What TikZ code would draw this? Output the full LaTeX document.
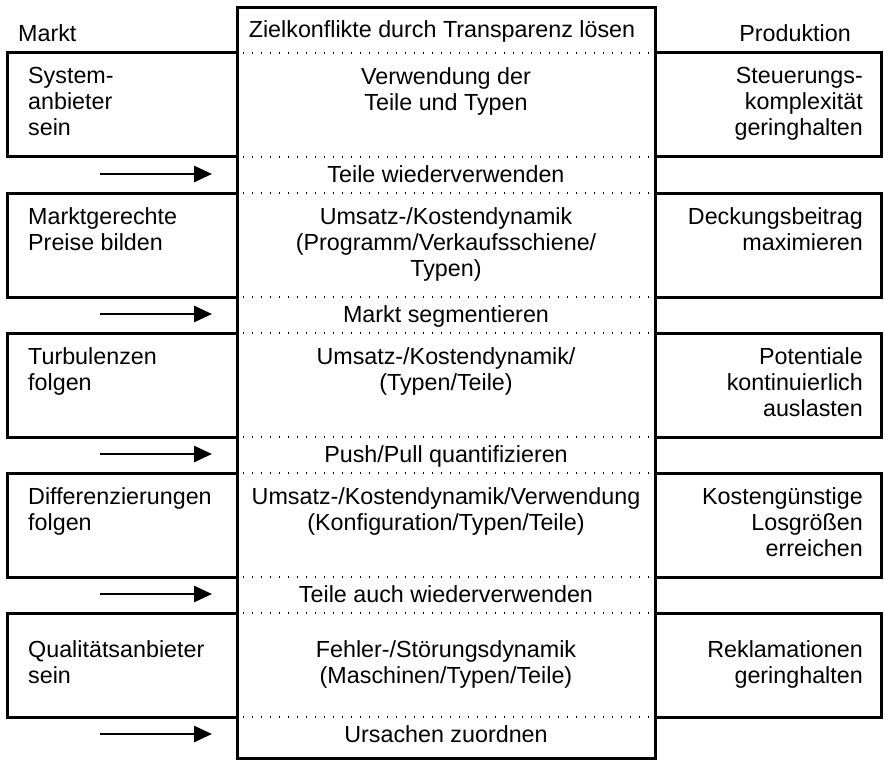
\documentclass[tikz,border=0pt]{standalone}
\usepackage{fontspec}
\setmainfont{Liberation Sans}
\usetikzlibrary{arrows.meta}
\begin{document}
\begin{tikzpicture}[x=1pt,y=-1pt,
  box/.style={draw,line width=3pt},
  dotline/.style={line width=1.2pt,dash pattern=on 1.2pt off 7.8pt},
  txt/.style={font=\fontsize{23.3}{26}\selectfont,inner sep=0pt},
  ltxt/.style={txt,align=left,anchor=north west},
  rtxt/.style={txt,align=right,anchor=north east},
  ctxt/.style={txt,align=center,anchor=north},
  arr/.style={line width=2.8pt,-{Triangle[length=18pt,width=16pt]}}]
\useasboundingbox (0,0) rectangle (885,762);
% central box
\draw[box] (237,8) rectangle (655,758);
% side boxes
\foreach \k in {0,...,4}{
  \draw[box] (7,53+140*\k) rectangle (237,157+140*\k);
  \draw[box] (655,53+140*\k) rectangle (881,157+140*\k);
  \draw[dotline] (243,53+140*\k) -- (649,53+140*\k);
  \draw[dotline] (243,157+140*\k) -- (649,157+140*\k);
  \coordinate (a\k) at (100,174+140*\k);
  \coordinate (b\k) at (212,174+140*\k);
  \draw[arr] (a\k) -- (b\k);
}
% headers
\node[ltxt] (hm) at (18,24) {Markt};
\node[rtxt] (hp) at (851,24) {Produktion};
\node[ctxt] (title) at (442,20) {Zielkonflikte durch Transparenz lösen};
% left texts
\node[ltxt] (l1) at (28,67) {System-\\anbieter\\sein};
\node[ltxt] (l2) at (28,207) {Marktgerechte\\Preise bilden};
\node[ltxt] (l3) at (28,347) {Turbulenzen\\folgen};
\node[ltxt] (l4) at (28,487) {Differenzierungen\\folgen};
\node[ltxt] (l5) at (28,640) {Qualitätsanbieter\\sein};
% right texts
\node[rtxt] (r1) at (863,67) {Steuerungs-\\komplexität\\geringhalten};
\node[rtxt] (r2) at (863,207) {Deckungsbeitrag\\maximieren};
\node[rtxt] (r3) at (863,347) {Potentiale\\kontinuierlich\\auslasten};
\node[rtxt] (r4) at (863,487) {Kostengünstige\\Losgrößen\\erreichen};
\node[rtxt] (r5) at (863,640) {Reklamationen\\geringhalten};
% center texts
\node[ctxt] (c1) at (446,67) {Verwendung der\\Teile und Typen};
\node[ctxt] (c2) at (446,207) {Umsatz-/Kostendynamik\\(Programm/Verkaufsschiene/\\Typen)};
\node[ctxt] (c3) at (446,347) {Umsatz-/Kostendynamik/\\(Typen/Teile)};
\node[ctxt] (c4) at (446,487) {Umsatz-/Kostendynamik/Verwendung\\(Konfiguration/Typen/Teile)};
\node[ctxt] (c5) at (446,640) {Fehler-/Störungsdynamik\\(Maschinen/Typen/Teile)};
% between labels
\node[ctxt] (m1) at (446,165) {Teile wiederverwenden};
\node[ctxt] (m2) at (446,305) {Markt segmentieren};
\node[ctxt] (m3) at (446,445) {Push/Pull quantifizieren};
\node[ctxt] (m4) at (446,585) {Teile auch wiederverwenden};
\node[ctxt] (m5) at (446,725) {Ursachen zuordnen};
\end{tikzpicture}
\end{document}
